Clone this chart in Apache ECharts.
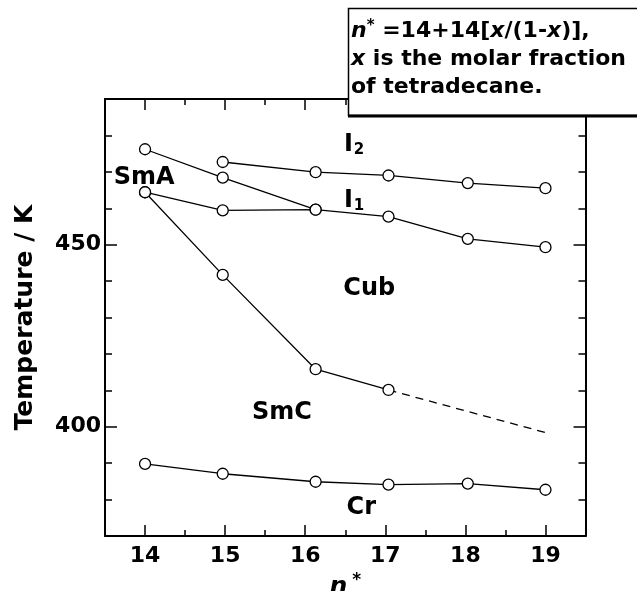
<!DOCTYPE html>
<html lang="en">
<head>
    <meta charset="UTF-8">
    <title>Phase diagram</title>
    <script src="https://cdn.jsdelivr.net/npm/echarts@6/dist/echarts.min.js"></script>
    <style>
        *{
            margin: 0;
            padding: 0;
        }
        #main{
            width: 637px;
            height: 591px;
            background: #fff;
        }
    </style>
</head>
<body>
<div id="main"></div>
<script>
    // phase boundaries, n* vs temperature (K)
    let nSmAI = [14, 14.97, 16.13];
    let tSmAI = [476.2, 468.4, 459.6];
    let nI2I1 = [14.97, 16.13, 17.04, 18.03, 19];
    let tI2I1 = [472.7, 469.9, 469.0, 466.9, 465.5];
    let nI1Cub = [14, 14.97, 16.13, 17.04, 18.03, 19];
    let tI1Cub = [464.4, 459.4, 459.6, 457.7, 451.6, 449.3];
    let nSmC = [14, 14.97, 16.13, 17.04];
    let tSmC = [464.4, 441.7, 415.8, 410.1];
    let nSmCext = [17.04, 19.05];
    let tSmCext = [410.1, 398.1];
    let nCr = [14, 14.97, 16.13, 17.04, 18.03, 19];
    let tCr = [389.8, 387.1, 384.9, 384.1, 384.4, 382.7];

    let xMajor = [14, 15, 16, 17, 18, 19];
    let xMinor = [14.5, 15.5, 16.5, 17.5, 18.5];
    let yMajor = [400, 450];
    let yMinor = [380, 390, 410, 420, 430, 440, 460, 470, 480];

    let phaseText = ['SmA', '{r|I}{s|2}', '{r|I}{s|1}', 'Cub', 'SmC', 'Cr'];
    let phaseN = [13.99, 16.61, 16.61, 16.80, 15.71, 16.70];
    let phaseT = [468.3, 477.4, 462.0, 437.8, 403.9, 377.8];

    function pairs(xs, ys){
        let out = [];
        for(let i = 0; i < xs.length; i++){
            out.push([xs[i], ys[i]]);
        }
        return out;
    }

    let FONT = 'DejaVu Sans';
    let lineSeries = function(xs, ys, dashed){
        return {
            type: 'line',
            data: pairs(xs, ys),
            symbol: dashed ? 'none' : 'circle',
            symbolSize: 11,
            itemStyle: {color: '#fff', borderColor: '#000', borderWidth: 1.3},
            lineStyle: {color: '#000', width: 1.3, type: dashed ? [8, 6] : 'solid'},
            z: dashed ? 2 : 3,
            silent: true,
            animation: false
        };
    };

    let phaseData = [];
    for(let i = 0; i < phaseText.length; i++){
        phaseData.push({value: [phaseN[i], phaseT[i]], name: phaseText[i]});
    }

    let xBase = {
        type: 'value', min: 13.5, max: 19.5,
        splitLine: {show: false}
    };
    let yBase = {
        type: 'value', min: 370, max: 490,
        splitLine: {show: false}
    };
    let axLine = {show: true, lineStyle: {color: '#000', width: 2}};

    let myChart = echarts.init(document.getElementById('main'));
    myChart.setOption({
        animation: false,
        grid: {left: 105, right: 51.5, top: 99, bottom: 55, containLabel: false, outerBoundsMode: 'none'},
        xAxis: [
            Object.assign({}, xBase, {
                position: 'bottom',
                axisLine: axLine,
                axisTick: {inside: true, length: 11, customValues: xMajor, lineStyle: {color: '#000', width: 1.5}},
                axisLabel: {customValues: xMajor, margin: 9, color: '#000', fontFamily: FONT, fontWeight: 'bold', fontSize: 22},
                name: '{i|n}{s|*}',
                nameLocation: 'middle',
                nameGap: 25,
                nameTextStyle: {
                    rich: {
                        i: {fontFamily: FONT, fontStyle: 'italic', fontWeight: 'bold', fontSize: 25, color: '#000'},
                        s: {fontFamily: FONT, fontWeight: 'bold', fontSize: 17, color: '#000', verticalAlign: 'top', padding: [0, 0, 14, 5]}
                    }
                }
            }),
            Object.assign({}, xBase, {
                position: 'bottom',
                axisLine: {show: false},
                axisTick: {inside: true, length: 6, customValues: xMinor, lineStyle: {color: '#000', width: 1.5}},
                axisLabel: {show: false}
            }),
            Object.assign({}, xBase, {
                position: 'top',
                axisLine: axLine,
                axisTick: {inside: true, length: 11, customValues: xMajor, lineStyle: {color: '#000', width: 1.5}},
                axisLabel: {show: false}
            }),
            Object.assign({}, xBase, {
                position: 'top',
                axisLine: {show: false},
                axisTick: {inside: true, length: 6, customValues: xMinor, lineStyle: {color: '#000', width: 1.5}},
                axisLabel: {show: false}
            })
        ],
        yAxis: [
            Object.assign({}, yBase, {
                position: 'left',
                axisLine: axLine,
                axisTick: {inside: true, length: 12, customValues: yMajor, lineStyle: {color: '#000', width: 1.5}},
                axisLabel: {customValues: yMajor, margin: 4, color: '#000', fontFamily: FONT, fontWeight: 'bold', fontSize: 22},
                name: 'Temperature / K',
                nameLocation: 'middle',
                nameGap: 67,
                nameTextStyle: {color: '#000', fontFamily: FONT, fontWeight: 'bold', fontSize: 25}
            }),
            Object.assign({}, yBase, {
                position: 'left',
                axisLine: {show: false},
                axisTick: {inside: true, length: 7, customValues: yMinor, lineStyle: {color: '#000', width: 1.5}},
                axisLabel: {show: false}
            }),
            Object.assign({}, yBase, {
                position: 'right',
                axisLine: axLine,
                axisTick: {inside: true, length: 12, customValues: yMajor, lineStyle: {color: '#000', width: 1.5}},
                axisLabel: {show: false}
            }),
            Object.assign({}, yBase, {
                position: 'right',
                axisLine: {show: false},
                axisTick: {inside: true, length: 7, customValues: yMinor, lineStyle: {color: '#000', width: 1.5}},
                axisLabel: {show: false}
            })
        ],
        series: [
            lineSeries(nSmCext, tSmCext, true),
            lineSeries(nSmAI, tSmAI),
            lineSeries(nI2I1, tI2I1),
            lineSeries(nI1Cub, tI1Cub),
            lineSeries(nSmC, tSmC),
            lineSeries(nCr, tCr),
            {
                type: 'scatter',
                data: phaseData,
                symbolSize: 1,
                itemStyle: {color: 'rgba(0,0,0,0)', opacity: 1},
                silent: true,
                z: 5,
                label: {
                    show: true,
                    position: 'inside',
                    formatter: '{b}',
                    color: '#000',
                    opacity: 1,
                    fontFamily: FONT,
                    fontWeight: 'bold',
                    fontSize: 24,
                    rich: {
                        r: {fontFamily: FONT, fontWeight: 'bold', fontSize: 24, color: '#000'},
                        s: {fontFamily: FONT, fontWeight: 'bold', fontSize: 15, color: '#000', verticalAlign: 'bottom', padding: [10, 0, 0, 1]}
                    }
                }
            }
        ],
        graphic: [
            {
                type: 'rect', z: 100,
                shape: {x: 348.5, y: 8.5, width: 300, height: 107},
                style: {fill: '#fff', stroke: '#000', lineWidth: 1.5}
            },
            {
                type: 'line', z: 101,
                shape: {x1: 348, y1: 116, x2: 637, y2: 116},
                style: {stroke: '#000', lineWidth: 3}
            },
            {
                type: 'text', z: 102, x: 351, y: 18.5,
                style: {
                    text: '{i|n}{s|*}{r| =14+14[}{i|x}{r|/(1-}{i|x}{r|)],}',
                    rich: {
                        r: {fontFamily: FONT, fontWeight: 'bold', fontSize: 22, fill: '#000'},
                        i: {fontFamily: FONT, fontWeight: 'bold', fontStyle: 'italic', fontSize: 22, fill: '#000'},
                        s: {fontFamily: FONT, fontWeight: 'bold', fontSize: 15, fill: '#000', verticalAlign: 'top', padding: [0, 0, 10, 0]}
                    }
                }
            },
            {
                type: 'text', z: 102, x: 351, y: 48.5,
                style: {
                    text: '{i|x}{r| is the molar fraction}',
                    rich: {
                        r: {fontFamily: FONT, fontWeight: 'bold', fontSize: 22, fill: '#000'},
                        i: {fontFamily: FONT, fontWeight: 'bold', fontStyle: 'italic', fontSize: 22, fill: '#000'}
                    }
                }
            },
            {
                type: 'text', z: 102, x: 351, y: 76.5,
                style: {
                    text: 'of tetradecane.',
                    font: 'bold 22px "DejaVu Sans"',
                    fill: '#000'
                }
            }
        ]
    });
</script>
</body>
</html>
